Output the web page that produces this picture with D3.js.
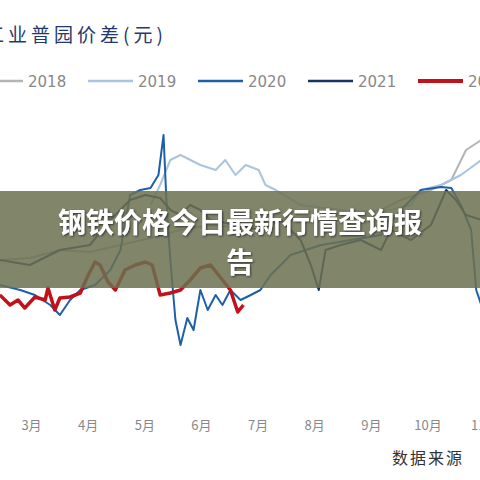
<!DOCTYPE html>
<html><head><meta charset="utf-8">
<script src="https://cdn.jsdelivr.net/npm/d3@7"></script>
<style>body{margin:0;background:#fff}</style>
</head><body><svg id="c"></svg>
<script>
// x = month (fractional), y = price spread (元)
const years = ["2018", "2019", "2020", "2021", "2022"];
const colors = ["#b4b4b4", "#a9c4df", "#1f5fa8", "#17335f", "#c0121a"];
const monthTicks = [3, 4, 5, 6, 7, 8, 9, 10, 11];
const s2018 = [[2.45,40],[2.98,42],[3.51,50],[4.04,48],[4.58,55],[5.11,62],[5.64,70],[6.17,75],[6.7,72],[7.23,78],[7.76,82],[8.47,85],[9.18,90],[9.53,100],[10.06,110],[10.42,120],[10.68,150],[10.95,160]];
const s2019 = [[5.11,95],[5.28,115],[5.46,140],[5.64,145],[5.99,135],[6.26,130],[6.43,140],[6.61,125],[6.79,135],[7.02,130],[7.14,115],[7.32,110],[7.76,95],[8.47,90],[9.18,88],[9.71,95],[9.88,110],[10.24,115],[10.59,125],[10.95,140]];
const s2020 = [[2.45,15],[2.81,10],[3.07,5],[3.34,-5],[3.51,-15],[3.69,0],[3.87,10],[4.13,15],[4.4,30],[4.58,50],[4.75,105],[4.93,110],[5.11,112],[5.25,125],[5.34,165],[5.39,100],[5.46,40],[5.55,-20],[5.64,-45],[5.76,-18],[5.87,-30],[5.99,10],[6.12,-10],[6.26,5],[6.38,-5],[6.52,10],[6.7,0],[6.88,5],[7.05,10],[7.23,25],[7.41,35],[7.58,45],[8.12,55],[8.65,60],[9.18,65],[9.53,90],[9.88,110],[10.24,113],[10.42,112],[10.59,95],[10.77,70],[10.86,10],[10.95,-5]];
const s2021 = [[2.45,40],[2.98,35],[3.51,50],[4.04,55],[4.4,80],[4.75,100],[5.02,105],[5.28,102],[5.46,90],[5.64,85],[5.81,95],[5.99,90],[6.17,80],[7.05,70],[7.41,80],[7.76,60],[7.94,35],[8.08,10],[8.2,50],[8.47,55],[8.82,60],[9.18,50],[9.35,70],[9.71,60],[10.06,75],[10.33,110],[10.5,100],[10.68,85],[10.95,80]];
const s2022 = [[2.45,5],[2.63,-5],[2.77,0],[2.89,-8],[3.07,3],[3.25,0],[3.3,12],[3.42,-10],[3.51,2],[3.69,3],[3.87,7],[4.01,25],[4.13,38],[4.22,35],[4.36,18],[4.49,10],[4.66,30],[4.84,35],[5.02,38],[5.14,35],[5.28,5],[5.46,7],[5.64,10],[5.81,20],[5.99,32],[6.17,35],[6.31,25],[6.52,10],[6.65,-12],[6.75,-5]];
const series = [s2018, s2019, s2020, s2021, s2022];

const W = 480, H = 480;
const svg = d3.select("#c").attr("width", W).attr("height", H);
const x = d3.scaleLinear().domain([3, 10]).range([31, 427.5]);
const y = d3.scaleLinear().domain([0, 200]).range([300, 100]);

svg.append("defs").append("clipPath").attr("id", "clip")
  .append("rect").attr("x", 0).attr("y", 90).attr("width", W).attr("height", 300);

svg.append("text").attr("x", -15).attr("y", 42)
  .attr("font-family", "Noto Sans CJK SC, serif").attr("font-size", 19)
  .attr("fill", "#1f3a6e").attr("letter-spacing", 4).text("工业普园价差(元)");

const leg = svg.append("g");
years.forEach((yr, i) => {
  const lx = -22 + i * 110;
  leg.append("line").attr("x1", lx).attr("x2", lx + 45).attr("y1", 81).attr("y2", 81)
    .attr("stroke", colors[i]).attr("stroke-width", i === 4 ? 4 : 2.5);
  leg.append("text").attr("x", lx + 50).attr("y", 87)
    .attr("font-family", "DejaVu Sans, sans-serif").attr("font-size", 15)
    .attr("fill", "#888").text(yr);
});

const line = d3.line().x(d => x(d[0])).y(d => y(d[1]));
const g = svg.append("g").attr("clip-path", "url(#clip)");
series.forEach((s, i) => {
  g.append("path").datum(s).attr("d", line).attr("fill", "none")
    .attr("stroke", colors[i]).attr("stroke-width", i === 4 ? 3.5 : 2)
    .attr("stroke-linejoin", "round");
});

const ax = svg.append("g").attr("transform", "translate(0,418)")
  .call(d3.axisBottom(x).tickValues(monthTicks).tickFormat(d => d + "月").tickSize(0));
ax.select(".domain").remove();
ax.selectAll("text").attr("font-family", "Noto Sans CJK SC, sans-serif").attr("font-size", 13).attr("fill", "#888");

svg.append("text").attr("x", 392).attr("y", 464)
  .attr("font-family", "Noto Sans CJK SC, serif").attr("font-size", 16).attr("fill", "#333")
  .attr("letter-spacing", 2).text("数据来源");

svg.append("rect").attr("x", 0).attr("y", 191).attr("width", W).attr("height", 97)
  .attr("fill", "#6b7150").attr("opacity", 0.85);
const f = svg.append("defs").append("filter").attr("id", "sh");
f.append("feDropShadow").attr("dx", 1).attr("dy", 1).attr("stdDeviation", 1.2).attr("flood-color", "#333");
["钢铁价格今日最新行情查询报", "告"].forEach((t, i) => {
  svg.append("text").attr("x", 240).attr("y", 233 + i * 40).attr("text-anchor", "middle")
    .attr("font-family", "Noto Sans CJK SC, sans-serif").attr("font-weight", "bold")
    .attr("font-size", 28).attr("fill", "#fff").attr("filter", "url(#sh)").text(t);
});
</script></body></html>
